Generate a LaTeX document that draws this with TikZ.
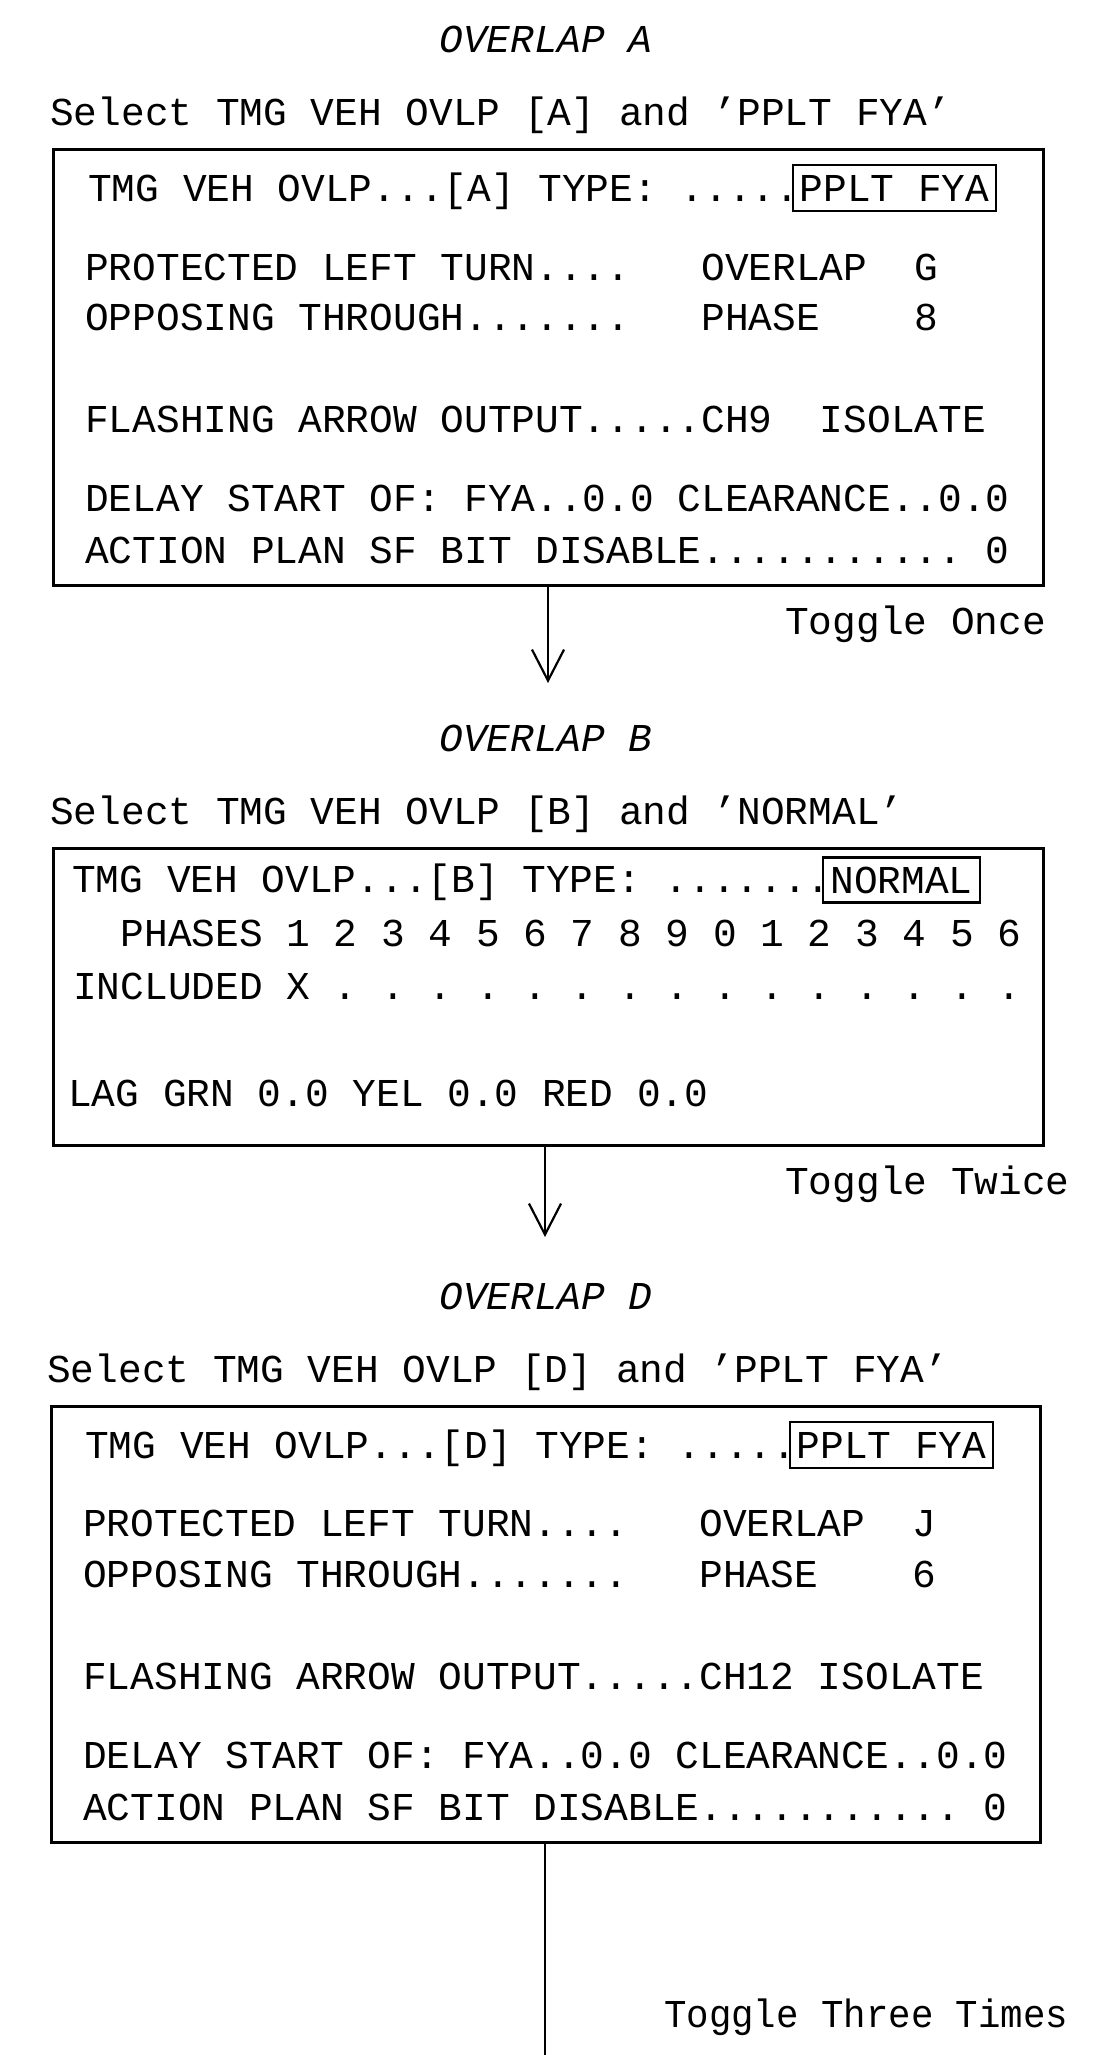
\documentclass[tikz,border=0pt]{standalone}
\usepackage{fontspec}
\setmainfont{Liberation Mono}
\usetikzlibrary{arrows.meta}
\frenchspacing
\begin{document}
\begin{tikzpicture}[x=1pt,y=-1pt,
  txt/.style={anchor=base west,inner sep=0pt,font=\fontsize{39.5}{40}\selectfont\frenchspacing},
  ttl/.style={inner sep=0pt,font=\fontsize{39.5}{40}\selectfont\itshape},
  frame/.style={draw,line width=2.6pt,anchor=north west,inner sep=0pt},
  tag/.style={draw,line width=2.2pt,inner sep=0pt,font=\fontsize{39.5}{40}\selectfont},
  arr/.style={line width=2.2pt,-{Straight Barb[length=31pt,width=32pt,line width=2.2pt]}},
  link/.style={line width=2.2pt}]
\useasboundingbox (0,0) rectangle (1110,2055);
% ---------- Overlap A
\node[ttl] (tA) at (546,39) {OVERLAP A};
\node[txt] (sA) at (50,126) {Select TMG VEH OVLP [A] and 'PPLT FYA'};
\node[frame,minimum width=990pt,minimum height=436pt] (bA) at (52,148) {};
\node[txt] (a1) at (88,202) {TMG VEH OVLP...[A] TYPE: .....};
\node[tag,minimum width=203pt,minimum height=46pt] (fA) at (894.5,188) {PPLT FYA};
\node[txt] (a2) at (85,280) {PROTECTED LEFT TURN....~~~OVERLAP~~G};
\node[txt] (a3) at (85,330) {OPPOSING THROUGH.......~~~PHASE~~~~8};
\node[txt] (a4) at (85,432) {FLASHING ARROW OUTPUT.....CH9~~ISOLATE};
\node[txt] (a5) at (85,511) {DELAY START OF: FYA..0.0 CLEARANCE..0.0};
\node[txt] (a6) at (85,563) {ACTION PLAN SF BIT DISABLE........... 0};
\coordinate (tipA) at (548,683);
\draw[arr] (bA.south -| tipA) -- (tipA);
\node[txt] (gA) at (785,634) {Toggle Once};
% ---------- Overlap B
\node[ttl] (tB) at (546,738) {OVERLAP B};
\node[txt] (sB) at (50,824) {Select TMG VEH OVLP [B] and 'NORMAL'};
\node[frame,minimum width=990pt,minimum height=297pt] (bB) at (52,847) {};
\node[txt] (b1) at (72,892) {TMG VEH OVLP...[B] TYPE: .......};
\node[tag,minimum width=157pt,minimum height=45pt] (fB) at (901.5,880) {NORMAL};
\node[txt] (b2) at (73,946) {~~PHASES 1 2 3 4 5 6 7 8 9 0 1 2 3 4 5 6};
\node[txt] (b3) at (73,999) {INCLUDED X . . . . . . . . . . . . . . .};
\node[txt] (b4) at (68,1106) {LAG GRN 0.0 YEL 0.0 RED 0.0};
\coordinate (tipB) at (545,1237);
\draw[arr] (bB.south -| tipB) -- (tipB);
\node[txt] (gB) at (785,1194) {Toggle Twice};
% ---------- Overlap D
\node[ttl] (tD) at (546,1296) {OVERLAP D};
\node[txt] (sD) at (47,1382) {Select TMG VEH OVLP [D] and 'PPLT FYA'};
\node[frame,minimum width=989pt,minimum height=436pt] (bD) at (50,1405) {};
\node[txt] (d1) at (85,1458) {TMG VEH OVLP...[D] TYPE: .....};
\node[tag,minimum width=203pt,minimum height=46pt] (fD) at (891.5,1445) {PPLT FYA};
\node[txt] (d2) at (83,1536) {PROTECTED LEFT TURN....~~~OVERLAP~~J};
\node[txt] (d3) at (83,1587) {OPPOSING THROUGH.......~~~PHASE~~~~6};
\node[txt] (d4) at (83,1689) {FLASHING ARROW OUTPUT.....CH12 ISOLATE};
\node[txt] (d5) at (83,1768) {DELAY START OF: FYA..0.0 CLEARANCE..0.0};
\node[txt] (d6) at (83,1820) {ACTION PLAN SF BIT DISABLE........... 0};
\coordinate (endD) at (545,2055);
\draw[link] (bD.south -| endD) -- (endD);
\node[txt,xscale=0.947,transform shape] (gD) at (664,2027) {Toggle Three Times};
\end{tikzpicture}
\end{document}
